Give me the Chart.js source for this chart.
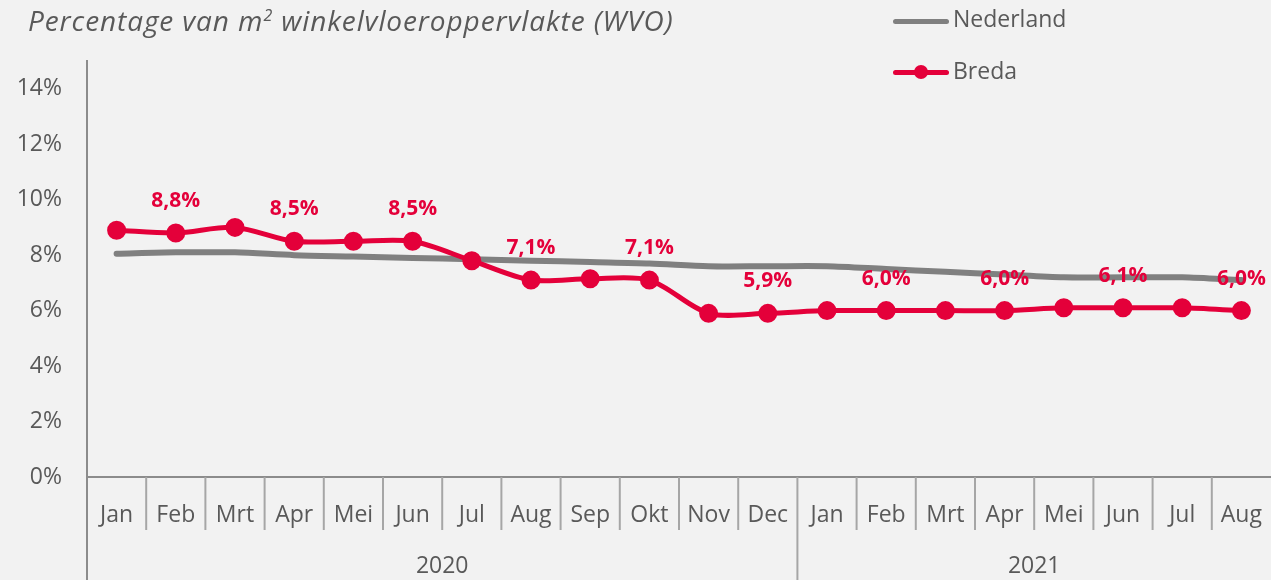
<!DOCTYPE html>
<html>
<head>
<meta charset="utf-8">
<script src="https://cdn.jsdelivr.net/npm/chart.js@4/dist/chart.umd.min.js"></script>
<style>
  body { margin: 0; background: #f2f2f2; }
  #wrap { position: relative; width: 1271px; height: 580px; font-family: "Open Sans", sans-serif; color: #595959; }
  #subtitle { position: absolute; left: 28px; top: 1px; font-size: 28px; letter-spacing: 0.9px; font-style: italic; white-space: nowrap; }
  #subtitle sup { font-size: 16px; }
  .leg { position: absolute; left: 893px; font-size: 23px; white-space: nowrap; }
  .leg .ln { position: absolute; left: 0; width: 56px; height: 5px; border-radius: 3px; }
  .leg .dot { position: absolute; left: 21px; width: 14px; height: 14px; border-radius: 7px; background: #e4003a; }
  .leg span.txt { position: absolute; left: 60px; }
  canvas { position: absolute; left: 0; top: 0; }
</style>
</head>
<body>
<div id="wrap">
  <canvas id="chart" width="1271" height="580"></canvas>
  <div id="subtitle">Percentage van m<sup>2</sup> winkelvloeroppervlakte (WVO)</div>
  <div class="leg" style="top:0px;">
    <div class="ln" style="top:19px;background:#808080;"></div>
    <span class="txt" style="top:2px;">Nederland</span>
  </div>
  <div class="leg" style="top:52px;">
    <div class="ln" style="top:18px;background:#e4003a;"></div>
    <div class="dot" style="top:13px;"></div>
    <span class="txt" style="top:2px;">Breda</span>
  </div>
</div>
<script>
const months = ["Jan", "Feb", "Mrt", "Apr", "Mei", "Jun", "Jul", "Aug", "Sep", "Okt", "Nov", "Dec",
  "Jan", "Feb", "Mrt", "Apr", "Mei", "Jun", "Jul", "Aug"];
const years = ["2020", "2021"];
const yearStart = [0, 12]; // index of first month of each year
const nederland = [8.05, 8.1, 8.1, 8.0, 7.95, 7.9, 7.85, 7.8, 7.75, 7.7, 7.6, 7.6,
  7.6, 7.5, 7.4, 7.3, 7.2, 7.2, 7.2, 7.1];
const breda = [8.9, 8.8, 9.0, 8.5, 8.5, 8.5, 7.8, 7.1, 7.15, 7.1, 5.9, 5.9,
  6.0, 6.0, 6.0, 6.0, 6.1, 6.1, 6.1, 6.0];

const textColor = "#595959";
const red = "#e4003a";
const axisColor = "#8c8c8c";

// month / year separators below the x axis
const axisBoxes = {
  id: "axisBoxes",
  afterDraw(chart) {
    const ctx = chart.ctx;
    const x = chart.scales.x;
    const area = chart.chartArea;
    const half = (x.getPixelForTick(1) - x.getPixelForTick(0)) / 2;
    ctx.save();
    ctx.strokeStyle = "#a6a6a6";
    ctx.lineWidth = 2;
    for (let i = 1; i < months.length; i++) {
      const px = x.getPixelForTick(i) - half;
      const long = yearStart.includes(i);
      ctx.beginPath();
      ctx.moveTo(px, area.bottom);
      ctx.lineTo(px, long ? 580 : area.bottom + 53);
      ctx.stroke();
    }
    ctx.strokeStyle = axisColor;
    ctx.beginPath();
    ctx.moveTo(area.left, area.bottom);
    ctx.lineTo(area.left, 580);
    ctx.stroke();

    ctx.fillStyle = textColor;
    ctx.font = '23px "Open Sans"';
    ctx.textAlign = "center";
    ctx.textBaseline = "middle";
    years.forEach((yr, k) => {
      const a = x.getPixelForTick(yearStart[k]) - half;
      const endIdx = k + 1 < yearStart.length ? yearStart[k + 1] : months.length;
      const b = x.getPixelForTick(endIdx - 1) + half;
      ctx.fillText(yr, (a + b) / 2, 566);
    });
    ctx.restore();
  }
};

// value labels on every other Breda point
const pointLabels = {
  id: "pointLabels",
  afterDatasetsDraw(chart) {
    const ctx = chart.ctx;
    const meta = chart.getDatasetMeta(0);
    ctx.save();
    ctx.fillStyle = red;
    ctx.font = 'bold 21px "Open Sans"';
    ctx.textAlign = "center";
    ctx.textBaseline = "middle";
    meta.data.forEach((pt, i) => {
      if (i % 2 === 1) {
        const txt = breda[i].toFixed(1).replace(".", ",") + "%";
        ctx.fillText(txt, pt.x, pt.y - 32);
      }
    });
    ctx.restore();
  }
};

new Chart(document.getElementById("chart"), {
  type: "line",
  data: {
    labels: months,
    datasets: [
      {
        label: "Breda",
        data: breda,
        borderColor: red,
        backgroundColor: red,
        borderWidth: 5,
        pointRadius: 7,
        pointHoverRadius: 7,
        tension: 0.3,
        order: 0
      },
      {
        label: "Nederland",
        data: nederland,
        borderColor: "#808080",
        borderWidth: 6,
        pointRadius: 0,
        tension: 0.3,
        borderCapStyle: "round",
        order: 1
      }
    ]
  },
  options: {
    responsive: false,
    animation: false,
    layout: { autoPadding: false, padding: { top: 61, right: 0, left: 0, bottom: 0 } },
    plugins: {
      legend: { display: false },
      tooltip: { enabled: false }
    },
    scales: {
      x: {
        offset: true,
        grid: { display: true, drawOnChartArea: false, drawTicks: true, tickLength: 25, color: "rgba(0,0,0,0)" },
        border: { display: true, color: axisColor, width: 2 },
        ticks: { color: textColor, font: { size: 23, family: "Open Sans" }, padding: 0, maxRotation: 0, autoSkip: false },
        afterFit: (s) => { s.height = 103; }
      },
      y: {
        min: 0,
        max: 15,
        grid: { display: false },
        border: { display: true, color: axisColor, width: 2 },
        ticks: {
          stepSize: 2,
          includeBounds: false,
          color: textColor,
          font: { size: 23, family: "Open Sans" },
          padding: 17,
          callback: (v) => v + "%"
        },
        afterFit: (s) => { s.width = 87; }
      }
    }
  },
  plugins: [axisBoxes, pointLabels]
});
</script>
</body>
</html>
